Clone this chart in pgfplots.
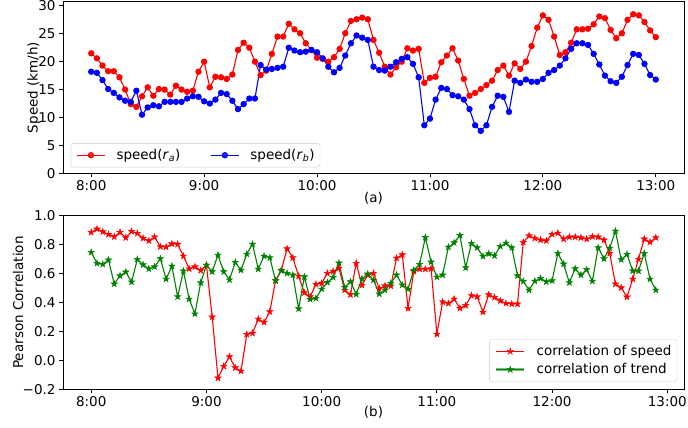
\documentclass[border=0pt]{standalone}
\usepackage{pgfplots}
\pgfplotsset{compat=1.18}
\usepackage{pgfplotstable}
\usepackage{fontspec}
\setmainfont{DejaVu Sans}
\definecolor{mgreen}{HTML}{008000}
\definecolor{mred}{HTML}{FF0000}
\definecolor{mblue}{HTML}{0000FF}
\newcommand\fs{\fontsize{13.5bp}{16bp}\selectfont}
\pgfdeclareplotmark{fstar}{%
  \pgfpathmoveto{\pgfpointpolar{90}{\pgfplotmarksize}}%
  \pgfpathlineto{\pgfpointpolar{126}{0.382*\pgfplotmarksize}}%
  \pgfpathlineto{\pgfpointpolar{162}{\pgfplotmarksize}}%
  \pgfpathlineto{\pgfpointpolar{198}{0.382*\pgfplotmarksize}}%
  \pgfpathlineto{\pgfpointpolar{234}{\pgfplotmarksize}}%
  \pgfpathlineto{\pgfpointpolar{270}{0.382*\pgfplotmarksize}}%
  \pgfpathlineto{\pgfpointpolar{306}{\pgfplotmarksize}}%
  \pgfpathlineto{\pgfpointpolar{342}{0.382*\pgfplotmarksize}}%
  \pgfpathlineto{\pgfpointpolar{18}{\pgfplotmarksize}}%
  \pgfpathlineto{\pgfpointpolar{54}{0.382*\pgfplotmarksize}}%
  \pgfpathclose
  \pgfusepathqfillstroke}

\pgfplotstableread{
t ra rb
0 21.5 18.2
3 20.6 18.0
6 19.3 16.7
9 18.3 15.1
12 18.3 14.4
15 17.2 13.6
18 15.0 13.0
21 12.4 12.8
24 11.9 14.8
27 13.8 10.5
30 15.4 11.8
33 13.9 12.2
36 15.1 12.0
39 15.0 12.8
42 14.1 12.8
45 15.7 12.8
48 15.0 12.8
51 14.6 13.4
54 14.8 13.8
57 18.2 13.7
60 20.0 12.9
63 15.4 12.5
66 17.3 13.2
69 17.2 14.4
72 16.9 14.2
75 17.7 13.0
78 22.1 11.5
81 23.4 12.4
84 22.5 13.4
87 20.0 13.4
90 17.6 19.4
93 18.4 18.6
96 21.4 18.7
99 24.5 18.9
102 24.5 19.1
105 26.8 22.5
108 25.8 22.0
111 25.1 21.7
114 23.3 21.8
117 22.1 22.1
120 20.7 21.7
123 20.5 20.6
126 20.0 19.1
129 20.8 18.1
132 22.3 18.9
135 25.1 21.1
138 27.3 23.3
141 27.6 24.7
144 27.9 24.3
147 27.6 23.9
150 23.9 19.1
153 21.6 18.5
156 19.1 18.4
159 17.7 19.1
162 19.0 19.9
165 20.0 20.5
168 22.4 20.8
171 22.0 19.6
174 22.3 17.2
177 16.2 8.6
180 17.1 9.8
183 17.3 13.2
186 19.9 15.3
189 21.1 15.1
192 22.4 14.0
195 20.2 13.8
198 16.9 13.2
201 13.9 11.5
204 14.4 8.6
207 15.1 7.6
210 15.8 8.6
213 16.6 11.9
216 18.5 13.9
219 19.3 13.7
222 17.5 11.0
225 19.7 16.6
228 18.7 16.2
231 20.0 16.8
234 22.8 16.4
237 26.1 16.4
240 28.3 16.9
243 27.5 18.0
246 24.5 18.5
249 21.2 19.3
252 21.7 20.6
255 23.4 22.3
258 25.8 23.3
261 25.8 23.3
264 25.9 23.0
267 26.7 21.4
270 28.1 19.5
273 27.8 17.5
276 25.7 16.5
279 24.2 16.2
282 25.1 17.3
285 27.5 19.4
288 28.5 21.4
291 28.3 21.2
294 27.1 19.6
297 25.6 17.6
300 24.4 16.8
}\speedtab

\pgfplotstableread{
t cs ct
0 0.885 0.747
3 0.908 0.671
6 0.889 0.664
9 0.871 0.694
12 0.855 0.528
15 0.885 0.585
18 0.848 0.611
21 0.892 0.542
24 0.878 0.698
27 0.844 0.661
30 0.827 0.633
33 0.853 0.647
36 0.786 0.703
39 0.784 0.562
42 0.806 0.652
45 0.803 0.440
48 0.721 0.618
51 0.633 0.424
54 0.647 0.322
57 0.622 0.537
60 0.659 0.659
63 0.300 0.613
66 -0.122 0.728
69 -0.041 0.613
72 0.025 0.557
75 -0.051 0.678
78 -0.074 0.624
81 0.180 0.735
84 0.188 0.803
87 0.285 0.631
90 0.263 0.721
93 0.336 0.710
96 0.551 0.551
99 0.624 0.620
102 0.772 0.602
105 0.710 0.590
108 0.583 0.357
111 0.468 0.578
114 0.440 0.422
117 0.526 0.429
120 0.533 0.493
123 0.602 0.539
126 0.615 0.574
129 0.638 0.673
132 0.486 0.505
135 0.454 0.544
138 0.671 0.457
141 0.519 0.564
144 0.590 0.597
147 0.602 0.555
150 0.495 0.459
153 0.516 0.486
156 0.514 0.533
159 0.707 0.590
162 0.730 0.521
165 0.360 0.493
168 0.615 0.624
171 0.631 0.664
174 0.631 0.850
177 0.634 0.680
180 0.182 0.576
183 0.405 0.590
186 0.394 0.783
189 0.424 0.813
192 0.360 0.864
195 0.380 0.641
198 0.448 0.809
201 0.440 0.779
204 0.334 0.719
207 0.454 0.737
210 0.436 0.723
213 0.412 0.788
216 0.394 0.811
219 0.390 0.779
222 0.390 0.585
225 0.816 0.546
228 0.862 0.486
231 0.844 0.548
234 0.832 0.567
237 0.827 0.544
240 0.871 0.551
243 0.880 0.740
246 0.839 0.666
249 0.853 0.537
252 0.853 0.634
255 0.848 0.590
258 0.839 0.627
261 0.855 0.548
264 0.853 0.779
267 0.832 0.703
270 0.740 0.776
273 0.528 0.894
276 0.502 0.696
279 0.438 0.733
282 0.562 0.618
285 0.700 0.618
288 0.839 0.740
291 0.818 0.562
294 0.848 0.486
}\corrtab

\pgfplotsset{
  common/.style={
    scale only axis, width=621bp,
    tick align=outside, xtick pos=left, ytick pos=left,
    major tick length=4bp,
    axis line style={line width=0.8bp},
    every tick/.style={line width=0.8bp, black},
    ticklabel style={font=\fs},
    label style={font=\fs},
    xtick={0,60,120,180,240,300},
    xticklabels={8:00,9:00,10:00,11:00,12:00,13:00},
    legend cell align=left,
    legend style={font=\fs, draw=black!20, rounded corners=2.5bp, fill=white, fill opacity=0.8, text opacity=1,
      nodes={inner sep=0pt}, inner xsep=5.5bp, inner ysep=6bp, row sep=6.5bp,
      /tikz/every odd column/.append style={column sep=11bp},
      /tikz/every even column/.append style={column sep=30bp}},
    legend image code/.code={\draw[mark repeat=2,mark phase=2,##1] plot coordinates {(0bp,0bp) (14bp,0bp) (28bp,0bp)};},
  },
  greenlegend/.style={
    legend image code/.code={\draw[mgreen, line width=2.8bp, opacity=0.5] (0bp,0bp) -- (28bp,0bp);
      \draw[mgreen, line width=1.1bp, mark=fstar, mark size=3.3bp, mark options={solid, fill=mgreen, draw=mgreen, line width=0.5bp}, mark repeat=2, mark phase=2] plot coordinates {(0bp,0bp) (14bp,0bp) (28bp,0bp)};},
  },
}

\begin{document}
\begin{tikzpicture}
\path[use as bounding box] (0,0) rectangle (688bp,428bp);
\begin{axis}[common,
  at={(63bp,254.7bp)}, anchor=south west, height=171.6bp,
  xmin=-15, xmax=315, ymin=0, ymax=30.75,
  ytick={0,5,10,15,20,25,30}, yticklabels={0,5,10,15,20,25,30},
  xlabel={(a)}, xlabel style={at={(axis description cs:0.5,0)}, anchor=center, yshift=-24.5bp},
  ylabel={Speed (km/h)}, ylabel style={at={(axis description cs:-0.0467,0.5)}, anchor=center},
  legend columns=2,
  legend style={at={(axis description cs:0.0124,0.035)}, anchor=south west},
]
\addplot[mred, line width=1.1bp, mark=*, mark size=2.6bp, mark options={solid, fill=mred, draw=mred}] table[x=t, y=ra] {\speedtab};
\addlegendentry{speed(\textit{r}\textsubscript{\textit{a}})}
\addplot[mblue, line width=1.1bp, mark=*, mark size=2.6bp, mark options={solid, fill=mblue, draw=mblue}] table[x=t, y=rb] {\speedtab};
\addlegendentry{speed(\textit{r}\textsubscript{\textit{b}})}
\end{axis}

\begin{axis}[common,
  at={(63bp,38.7bp)}, anchor=south west, height=173.6bp,
  xmin=-14.7, xmax=308.7, ymin=-0.2, ymax=1.0,
  ytick={-0.2,0,0.2,0.4,0.6,0.8,1.0}, yticklabels={−0.2,0.0,0.2,0.4,0.6,0.8,1.0},
  xlabel={(b)}, xlabel style={at={(axis description cs:0.5,0)}, anchor=center, yshift=-23.2bp},
  ylabel={Pearson Correlation}, ylabel style={at={(axis description cs:-0.0725,0.5)}, anchor=center},
  legend style={at={(axis description cs:0.989,0.044)}, anchor=south east},
]
\addplot[mred, line width=1.1bp, mark=fstar, mark size=3.3bp, mark options={solid, fill=mred, draw=mred, line width=0.5bp}] table[x=t, y=cs] {\corrtab};
\addlegendentry{correlation of speed}
\addplot[mgreen, line width=1.1bp, mark=fstar, mark size=3.3bp, mark options={solid, fill=mgreen, draw=mgreen, line width=0.5bp}, greenlegend] table[x=t, y=ct] {\corrtab};
\addlegendentry{correlation of trend}
\end{axis}
\end{tikzpicture}
\end{document}
